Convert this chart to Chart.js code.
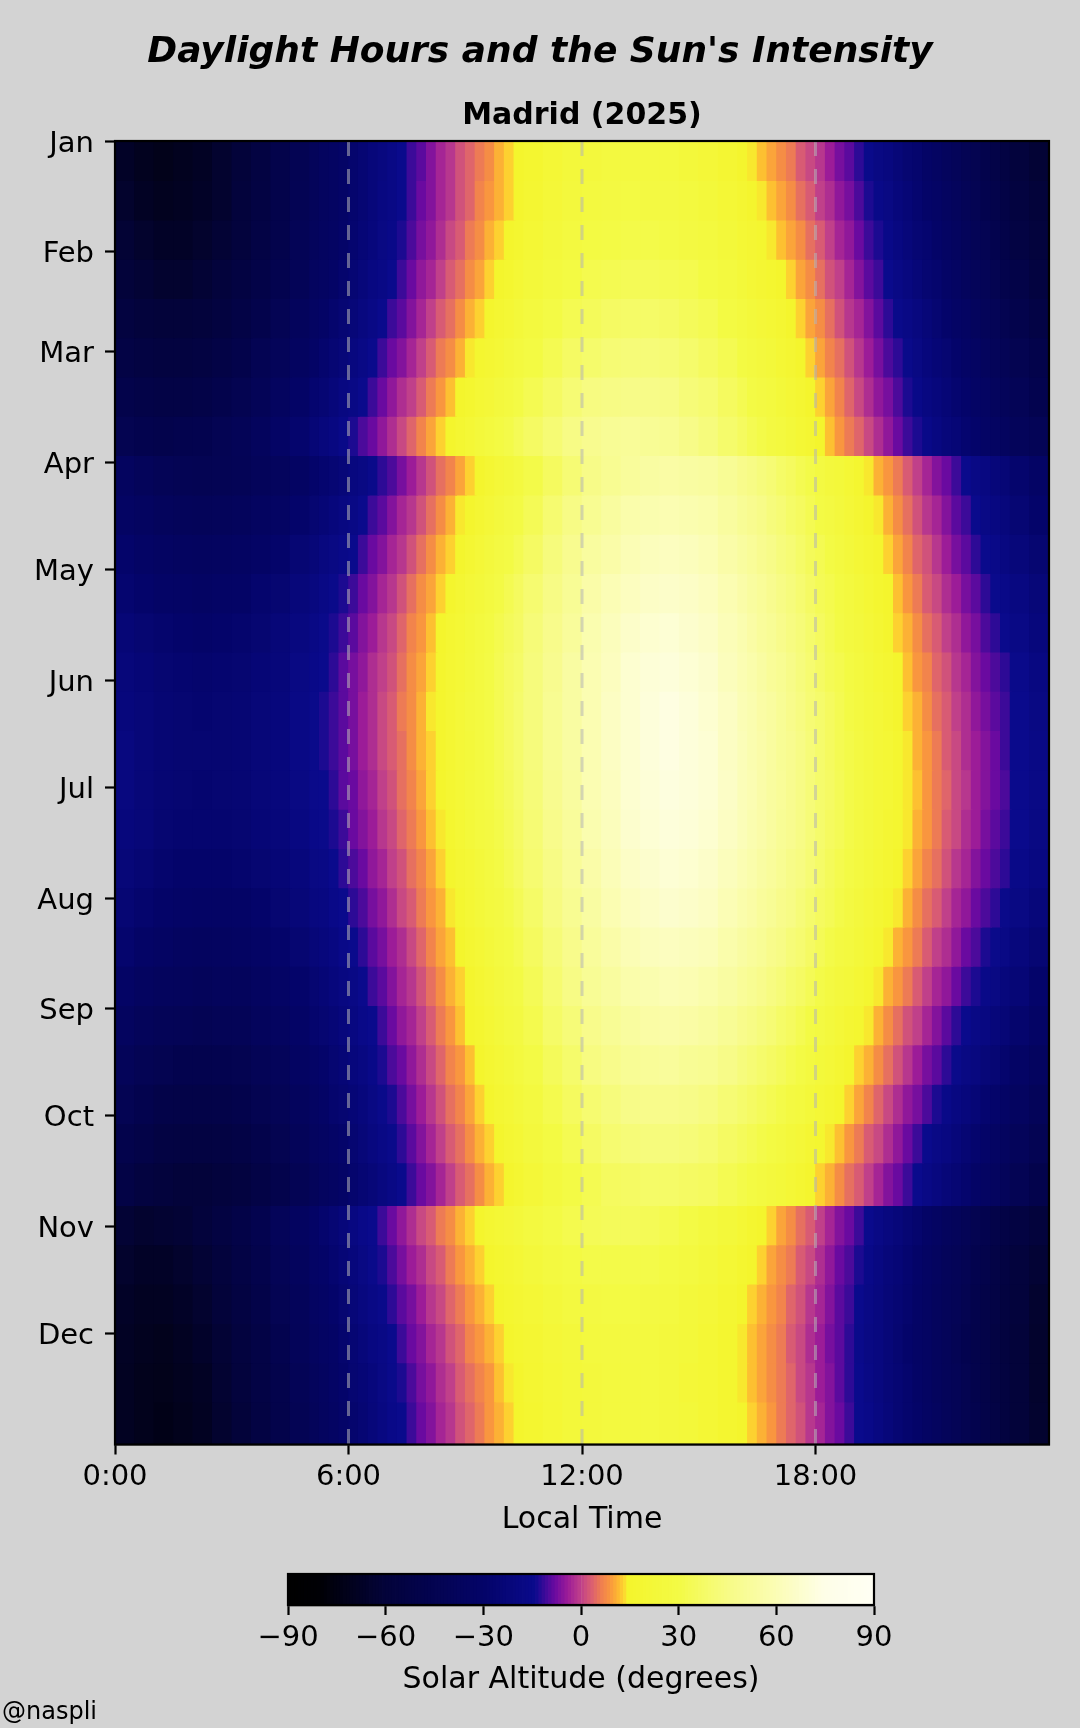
<!DOCTYPE html>
<html><head><meta charset="utf-8">
<script src="https://cdn.jsdelivr.net/npm/chart.js@4"></script>
<style>
html,body{margin:0;padding:0;background:#d3d3d3;width:1080px;height:1728px;overflow:hidden;position:relative}
canvas{position:absolute;left:0}
#credit{position:absolute;left:2px;top:1696px;font:24px "DejaVu Sans";color:#000;line-height:30px}
</style></head><body>
<canvas id="main" style="top:0"></canvas>
<canvas id="bar" style="top:1560px"></canvas>
<div id="credit">@naspli</div>
<script>
const monthLabels=["Jan","Feb","Mar","Apr","May","Jun","Jul","Aug","Sep","Oct","Nov","Dec"];
const monthStarts=[0,31,59,90,120,151,181,212,243,273,304,334];
const timeTicks=[0,6,12,18];
const colorbarTicks=[-90,-60,-30,0,30,60,90];
const dayEdges=[0,11,22,33,44,55,66,77,88,99,110,121,132,143,154,165,176,187,198,209,220,231,242,253,264,275,286,298,309,320,331,342,353,365];
const timeEdges=[0,.5,1,1.5,2,2.5,3,3.5,4,4.5,5,5.25,5.5,5.75,6,6.25,6.5,6.75,7,7.25,7.5,7.75,8,8.25,8.5,8.75,9,9.25,9.5,9.75,10,10.25,10.5,11,11.5,12,12.5,13,13.5,14,14.5,15,15.5,16,16.25,16.5,16.75,17,17.25,17.5,17.75,18,18.25,18.5,18.75,19,19.25,19.5,19.75,20,20.25,20.5,20.75,21,21.25,21.5,21.75,22,22.25,22.5,22.75,23,23.5,24];
const altitude=[
[-67,-70,-72,-70,-68,-64,-60,-55,-49,-44, -39,-36,-34,-31,-28,-25,-22,-20,-17,-14,-11,-9,-6,-3,-1,2,4,6,8,11,13,15, 17,21,24,25,27,27,27,26,24,22,19, 16,14,12,10,8,6,3,1,-1,-4,-7,-9,-12,-15,-18,-20,-23,-26,-28,-31,-34,-37,-40,-43,-45,-48,-51,-54, -58,-62],
[-65,-68,-70,-69,-67,-64,-59,-54,-49,-43, -39,-36,-34,-31,-28,-25,-22,-19,-17,-14,-11,-8,-6,-3,-1,2,4,7,9,11,13,16, 18,22,25,27,28,29,28,28,26,24,21, 18,16,14,12,10,8,5,3,0,-2,-5,-7,-10,-13,-16,-18,-21,-24,-27,-30,-32,-35,-38,-41,-44,-47,-49,-52, -56,-60],
[-62,-65,-67,-67,-65,-62,-58,-53,-48,-42, -38,-35,-33,-30,-27,-24,-21,-18,-16,-13,-10,-7,-5,-2,1,3,6,8,11,13,15,17, 20,24,27,29,30,31,31,30,28,26,23, 20,19,17,14,12,10,8,5,3,0,-3,-5,-8,-11,-13,-16,-19,-22,-25,-27,-30,-33,-36,-39,-42,-44,-47,-50, -54,-58],
[-60,-62,-64,-64,-62,-59,-55,-51,-46,-41, -36,-34,-31,-28,-25,-22,-19,-17,-14,-11,-8,-5,-3,0,3,5,8,10,13,15,17,20, 23,26,29,32,33,34,34,33,32,29,26, 23,21,19,17,15,13,10,8,5,2,0,-3,-6,-9,-11,-14,-17,-20,-23,-26,-28,-31,-34,-37,-40,-42,-45,-48, -51,-56],
[-56,-59,-60,-60,-59,-56,-52,-48,-43,-38, -34,-31,-28,-25,-23,-20,-17,-14,-11,-9,-6,-3,0,3,5,8,11,13,16,18,20,23, 26,30,33,35,37,38,38,37,35,33,29, 26,24,22,20,18,15,13,10,8,5,2,-1,-3,-6,-9,-12,-15,-17,-20,-23,-26,-29,-32,-34,-37,-40,-42,-45, -48,-53],
[-53,-55,-56,-56,-55,-52,-49,-44,-40,-35, -31,-28,-25,-23,-20,-17,-14,-11,-8,-6,-3,0,3,6,8,11,14,17,19,21,24,26, 29,33,37,39,41,42,42,41,39,36,33, 29,27,25,23,20,18,15,13,10,7,5,2,-1,-4,-7,-10,-12,-15,-18,-21,-24,-26,-29,-32,-34,-37,-40,-42, -45,-49],
[-49,-51,-52,-52,-51,-48,-45,-41,-36,-31, -27,-25,-22,-19,-17,-14,-11,-8,-5,-2,0,3,6,9,12,15,17,20,22,25,27,30, 33,37,41,44,45,46,46,45,42,40,36, 33,30,28,26,23,21,18,15,13,10,7,4,1,-2,-5,-7,-10,-13,-16,-19,-21,-24,-27,-29,-32,-34,-37,-39, -42,-46],
[-45,-47,-48,-47,-46,-44,-41,-37,-32,-28, -24,-21,-19,-16,-13,-10,-8,-5,-2,1,4,7,10,13,15,18,21,24,26,29,31,34, 37,41,45,48,50,51,50,49,46,43,39, 36,33,31,28,26,23,20,18,15,12,9,6,4,1,-2,-5,-8,-11,-13,-16,-19,-22,-24,-27,-29,-32,-34,-36, -39,-42],
[-36,-39,-42,-43,-44,-43,-42,-39,-37,-33, -29,-27,-25,-23,-20,-18,-15,-12,-10,-7,-4,-1,2,5,7,10,13,16,19,22,24,27, 31,36,41,46,49,52,54,55,54,53,50, 47,45,43,41,38,36,33,31,28,25,23,20,17,14,11,9,6,3,0,-3,-6,-8,-11,-14,-17,-19,-22,-24, -28,-32],
[-33,-35,-38,-39,-40,-39,-38,-35,-33,-29, -26,-24,-21,-19,-17,-14,-11,-9,-6,-3,-1,2,5,8,11,14,16,19,22,25,28,30, 34,40,45,49,53,57,58,59,58,57,53, 50,48,46,43,41,38,36,33,30,28,25,22,19,16,14,11,8,5,2,-1,-3,-6,-9,-11,-14,-17,-19,-21, -25,-29],
[-29,-32,-34,-35,-36,-35,-34,-32,-29,-25, -23,-20,-18,-16,-14,-11,-8,-6,-3,-1,2,5,8,11,13,16,19,22,25,28,30,33, 37,43,48,53,56,60,62,63,62,60,56, 53,51,48,46,43,41,38,35,33,30,27,24,21,18,16,13,10,7,4,2,-1,-4,-7,-9,-12,-14,-16,-19, -22,-26],
[-27,-29,-31,-32,-33,-32,-31,-28,-26,-22, -20,-17,-15,-13,-11,-8,-6,-3,-1,2,5,8,10,13,16,19,22,24,27,30,33,36, 40,45,50,56,60,63,65,66,65,63,59, 56,53,51,48,45,43,40,37,34,32,29,26,23,20,17,15,12,9,6,3,1,-2,-4,-7,-9,-12,-14,-16, -19,-23],
[-24,-26,-28,-29,-30,-29,-28,-26,-23,-20, -17,-15,-13,-11,-9,-6,-4,-1,1,4,7,9,12,15,18,20,23,26,29,32,35,37, 42,47,52,58,62,66,68,69,67,65,61, 58,55,52,50,47,44,42,39,36,33,30,27,25,22,19,16,13,11,8,5,3,0,-2,-5,-7,-10,-12,-14, -17,-21],
[-22,-24,-26,-27,-28,-27,-26,-24,-22,-18, -16,-14,-12,-9,-7,-5,-2,0,2,5,8,10,13,16,19,21,24,27,30,33,36,38, 43,48,54,59,63,68,70,71,69,67,62, 59,57,54,51,49,46,43,40,37,34,32,29,26,23,20,18,15,12,9,7,4,2,-1,-3,-6,-8,-10,-12, -15,-19],
[-21,-23,-25,-26,-27,-26,-25,-23,-21,-17, -15,-13,-11,-9,-7,-4,-2,1,3,6,8,11,14,16,19,22,25,27,30,33,36,39, 43,49,54,59,64,68,71,73,71,68,64, 60,58,55,53,50,47,44,41,39,36,33,30,27,24,22,19,16,13,11,8,5,3,0,-2,-5,-7,-9,-11, -14,-18],
[-20,-23,-25,-26,-26,-26,-25,-23,-21,-17, -15,-13,-11,-9,-7,-4,-2,1,3,5,8,11,13,16,19,22,24,27,30,33,36,39, 43,49,54,59,64,68,71,73,71,69,64, 61,58,56,53,50,48,45,42,39,36,33,31,28,25,22,20,17,14,11,9,6,3,1,-2,-4,-6,-8,-11, -14,-17],
[-20,-23,-25,-26,-27,-26,-25,-23,-21,-18, -15,-14,-12,-9,-8,-5,-3,0,2,5,7,10,13,15,18,21,24,26,29,32,35,38, 42,48,53,59,63,68,70,72,71,69,65, 61,59,56,53,51,48,45,42,39,37,34,31,28,25,22,20,17,14,12,9,6,4,1,-1,-4,-6,-8,-10, -14,-17],
[-21,-23,-26,-27,-27,-27,-26,-24,-22,-19, -16,-15,-13,-11,-8,-6,-4,-1,1,4,6,9,12,14,17,20,23,26,28,31,34,37, 41,47,52,58,62,67,69,71,70,68,64, 61,58,56,53,50,48,45,42,39,36,34,31,28,25,22,19,17,14,11,9,6,3,1,-2,-4,-7,-9,-11, -14,-18],
[-23,-25,-28,-29,-29,-29,-28,-26,-24,-21, -18,-17,-14,-12,-10,-8,-5,-3,0,2,5,7,10,13,16,19,21,24,27,30,33,36, 40,45,51,56,61,65,67,69,68,66,62, 59,57,54,52,49,46,44,41,38,35,32,30,27,24,21,18,15,13,10,7,5,2,-1,-3,-6,-8,-10,-12, -16,-19],
[-25,-28,-30,-31,-32,-32,-31,-29,-26,-23, -20,-19,-16,-14,-12,-10,-7,-5,-2,1,3,6,9,11,14,17,20,23,26,28,31,34, 38,44,49,54,59,63,65,67,66,64,60, 57,55,52,50,47,45,42,39,36,34,31,28,25,22,19,16,14,11,8,5,3,0,-3,-5,-8,-10,-12,-15, -18,-22],
[-28,-31,-33,-35,-36,-35,-34,-32,-29,-26, -23,-21,-19,-16,-14,-12,-9,-7,-4,-2,1,4,7,10,12,15,18,21,24,27,29,32, 36,42,47,52,56,60,62,63,62,61,57, 54,52,50,47,45,42,40,37,34,31,28,26,23,20,17,14,11,9,6,3,0,-2,-5,-8,-10,-13,-15,-17, -21,-25],
[-32,-35,-37,-38,-39,-38,-38,-35,-32,-29, -26,-24,-21,-19,-17,-14,-11,-9,-6,-3,-1,2,5,8,11,13,16,19,22,25,28,30, 34,40,45,50,53,57,58,60,59,57,54, 51,49,47,44,42,39,37,34,31,28,25,23,20,17,14,11,9,6,3,0,-3,-5,-8,-11,-13,-16,-18,-21, -24,-29],
[-36,-39,-41,-42,-43,-42,-41,-38,-35,-31, -28,-26,-24,-21,-19,-16,-14,-11,-8,-5,-3,0,3,6,9,12,15,17,20,23,26,28, 32,38,42,47,50,53,55,56,55,53,50, 47,45,43,41,38,36,33,30,28,25,22,19,17,14,11,8,5,2,0,-3,-6,-9,-12,-14,-17,-19,-22,-24, -28,-32],
[-40,-43,-45,-47,-47,-46,-45,-42,-39,-34, -31,-29,-26,-24,-21,-19,-16,-13,-10,-8,-5,-2,1,4,7,9,12,15,18,21,23,26, 30,35,39,44,47,50,51,52,50,49,46, 43,41,39,37,35,32,30,27,24,22,19,16,13,11,8,5,2,-1,-4,-7,-9,-12,-15,-18,-20,-23,-25,-28, -32,-36],
[-44,-47,-50,-51,-51,-50,-48,-45,-42,-37, -34,-31,-28,-26,-24,-21,-18,-15,-13,-10,-7,-4,-1,2,5,7,10,13,16,19,21,24, 27,32,36,40,43,46,47,47,46,44,41, 39,37,35,33,31,28,26,23,21,18,15,13,10,7,4,1,-2,-5,-7,-10,-13,-16,-19,-21,-24,-27,-29,-32, -35,-40],
[-48,-51,-54,-55,-55,-54,-52,-49,-45,-40, -36,-34,-31,-29,-26,-23,-20,-17,-15,-12,-9,-6,-3,0,3,5,8,11,13,16,19,21, 25,29,33,37,40,42,43,43,42,40,37, 35,33,31,29,27,24,22,19,17,14,12,9,6,3,1,-2,-5,-8,-11,-14,-17,-19,-22,-25,-28,-30,-33,-36, -39,-44],
[-52,-56,-58,-60,-60,-58,-56,-52,-48,-43, -39,-36,-34,-31,-28,-25,-23,-20,-17,-14,-11,-8,-6,-3,0,3,5,8,11,13,16,18, 22,26,30,33,36,37,38,38,37,36,33, 31,29,27,25,23,21,18,16,13,11,8,5,3,0,-3,-6,-8,-11,-14,-17,-20,-23,-25,-28,-31,-34,-36,-39, -43,-48],
[-62,-64,-63,-62,-59,-55,-51,-46,-40,-35, -31,-28,-25,-22,-19,-16,-14,-11,-8,-5,-2,1,3,6,8,11,13,15,18,20,22,24, 27,30,32,34,35,35,34,32,30,26,23, 20,17,15,13,10,8,5,3,0,-3,-6,-8,-11,-14,-17,-20,-22,-25,-28,-31,-34,-37,-39,-42,-45,-47,-50,-52, -55,-59],
[-65,-67,-67,-65,-62,-58,-53,-48,-42,-37, -32,-30,-27,-24,-21,-18,-15,-13,-10,-7,-4,-2,1,3,6,9,11,13,15,17,19,21, 24,27,29,31,31,31,31,29,27,24,20, 17,15,13,10,8,6,3,1,-2,-5,-8,-10,-13,-16,-19,-22,-24,-27,-30,-33,-36,-39,-41,-44,-47,-49,-52,-55, -58,-62],
[-67,-69,-69,-67,-64,-60,-55,-50,-44,-39, -34,-32,-29,-26,-23,-20,-17,-15,-12,-9,-7,-4,-1,1,4,6,9,11,13,15,17,19, 21,24,27,28,29,29,28,27,24,22,18, 15,13,11,9,7,4,2,-1,-3,-6,-9,-11,-14,-17,-20,-23,-25,-28,-31,-34,-37,-40,-42,-45,-48,-51,-53,-56, -59,-64],
[-68,-70,-71,-69,-66,-62,-57,-52,-46,-40, -36,-33,-31,-28,-25,-22,-19,-17,-14,-11,-8,-6,-3,-1,2,4,7,9,11,13,15,17, 19,22,24,26,27,27,26,25,23,20,17, 14,12,10,8,6,3,1,-2,-4,-7,-9,-12,-15,-18,-20,-23,-26,-29,-32,-34,-37,-40,-43,-46,-49,-51,-54,-57, -60,-65],
[-69,-71,-72,-70,-68,-63,-58,-53,-48,-42, -38,-35,-32,-29,-26,-24,-21,-18,-15,-13,-10,-7,-5,-2,0,3,5,7,9,12,14,15, 18,21,23,25,26,26,26,25,22,20,17, 14,12,10,8,6,4,1,-1,-4,-6,-9,-12,-14,-17,-20,-23,-25,-28,-31,-34,-37,-40,-42,-45,-48,-51,-54,-56, -60,-65],
[-69,-71,-73,-71,-69,-64,-60,-54,-49,-43, -39,-36,-33,-30,-28,-25,-22,-19,-16,-14,-11,-8,-6,-3,-1,2,4,6,9,11,13,15, 17,20,23,25,26,26,26,25,23,20,17, 15,13,11,9,6,4,2,-1,-3,-6,-8,-11,-14,-16,-19,-22,-25,-28,-30,-33,-36,-39,-42,-45,-47,-50,-53,-56, -60,-64]
];
const cmapStops=[[-90,"#000000"],[-80,"#000005"],[-70,"#02021f"],[-60,"#03033a"],[-30,"#040468"],[-14,"#0a0a8c"],[-12,"#2d0a96"],[-8,"#6a0aa0"],[-4,"#9c1c98"],[0,"#c0408a"],[3.5,"#dc6070"],[6.5,"#f0804f"],[9,"#f9963f"],[11.5,"#fdb832"],[13.4,"#fdd830"],[14.5,"#f4f52c"],[30,"#f3fa45"],[45,"#f7fb85"],[60,"#fbfdb5"],[75,"#fefee8"],[90,"#fffff4"]];
function hex(c){return [1,3,5].map(i=>parseInt(c.substr(i,2),16));}
function cmap(v){for(let i=1;i<cmapStops.length;i++){if(v<=cmapStops[i][0]){const [a,ca]=cmapStops[i-1],[b,cb]=cmapStops[i];const f=(v-a)/(b-a),A=hex(ca),B=hex(cb);return `rgb(${A.map((x,k)=>Math.round(x+(B[k]-x)*f)).join(",")})`;}}return cmapStops[cmapStops.length-1][1];}
const FONT="'DejaVu Sans'";
const plot={left:115,right:1049,top:141,bottom:1444.5};
const dayPx=(plot.bottom-plot.top)/365;
const frame={id:"frame",afterDatasetsDraw(c){const a=c.chartArea,x=c.ctx;x.save();x.strokeStyle="#000";x.lineWidth=2.2;x.strokeRect(a.left,a.top,a.right-a.left,a.bottom-a.top);x.restore();}};
const rowSets=altitude.map((vals,r)=>({type:"bar",indexAxis:"y",grouped:false,order:2,borderWidth:0,
 barThickness:(dayEdges[r+1]-dayEdges[r])*dayPx+1,
 data:vals.map((v,c)=>({x:[timeEdges[c],timeEdges[c+1]+0.03],y:(dayEdges[r]+dayEdges[r+1])/2})),
 backgroundColor:vals.map(cmap)}));
const guides=[6,12,18].map(t=>({type:"scatter",showLine:true,order:0,pointRadius:0,borderWidth:3,borderDash:[15,13],borderColor:"rgba(180,180,180,0.55)",data:[{x:t,y:0},{x:t,y:365}]}));
const mainEl=document.getElementById("main");mainEl.width=1080;mainEl.height=1560;
new Chart(mainEl,{type:"bar",data:{datasets:[...guides,...rowSets]},plugins:[frame],options:{
 responsive:false,animation:false,devicePixelRatio:1,
 layout:{padding:{left:0,right:0,top:0,bottom:0}},
 plugins:{legend:{display:false},tooltip:{enabled:false},
  title:{display:true,text:"Daylight Hours and the Sun's Intensity",color:"#000",font:{family:FONT,size:36,weight:"bold",style:"italic",lineHeight:1.2},padding:{top:31,bottom:12}},
  subtitle:{display:true,fullSize:false,text:"Madrid (2025)",color:"#000",font:{family:FONT,size:30,weight:"bold",lineHeight:1.2},padding:{top:11.8,bottom:7}}},
 scales:{
  x:{type:"linear",min:0,max:24,offset:false,position:"bottom",afterBuildTicks(s){s.ticks=timeTicks.map(v=>({value:v}));},afterFit(s){s.height=115.5;},
   grid:{offset:false,drawOnChartArea:false,tickLength:10,tickWidth:2.2,tickColor:"#000"},border:{color:"#000",width:2.2},
   ticks:{autoSkip:false,maxRotation:0,padding:6,color:"#000",font:{family:FONT,size:29},callback:v=>v+":00"},
   title:{display:true,text:"Local Time",color:"#000",font:{family:FONT,size:30},padding:{top:8,bottom:22}}},
  y:{type:"linear",min:0,max:365,offset:false,reverse:true,afterBuildTicks(s){s.ticks=monthStarts.map(v=>({value:v}));},afterFit(s){s.width=115;},
   grid:{offset:false,drawOnChartArea:false,tickLength:10,tickWidth:2.2,tickColor:"#000"},border:{color:"#000",width:2.2},
   ticks:{autoSkip:false,padding:11,color:"#000",font:{family:FONT,size:29,lineHeight:"6px"},callback:v=>["",monthLabels[monthStarts.indexOf(v)]]}},
  margin:{type:"linear",position:"right",min:0,max:1,afterFit(s){s.width=31;},grid:{display:false},border:{display:false},ticks:{display:false}}
 }}});
const barEl=document.getElementById("bar");barEl.width=1080;barEl.height=168;
const levels=[];for(let v=-90;v<90;v+=1)levels.push(v);
new Chart(barEl,{type:"bar",data:{datasets:[{indexAxis:"y",barThickness:32,borderWidth:0,data:levels.map(v=>({x:[v,v+1.05],y:0})),backgroundColor:levels.map(v=>cmap(v+.5))}]},plugins:[frame],options:{
 responsive:false,animation:false,devicePixelRatio:1,
 layout:{padding:{left:288,right:206,top:14,bottom:0}},
 plugins:{legend:{display:false},tooltip:{enabled:false}},
 scales:{
  x:{type:"linear",min:-90,max:90,offset:false,position:"bottom",afterBuildTicks(s){s.ticks=colorbarTicks.map(v=>({value:v}));},afterFit(s){s.height=123;},
   grid:{offset:false,drawOnChartArea:false,tickLength:10,tickWidth:2.2,tickColor:"#000"},border:{color:"#000",width:2.2},
   ticks:{autoSkip:false,maxRotation:0,padding:6,color:"#000",font:{family:FONT,size:29},callback:v=>String(v).replace("-","\u2212")},
   title:{display:true,text:"Solar Altitude (degrees)",color:"#000",font:{family:FONT,size:30},padding:{top:8,bottom:30}}},
  y:{type:"linear",min:-0.5,max:0.5,offset:false,display:false}
 }}});
</script></body></html>
